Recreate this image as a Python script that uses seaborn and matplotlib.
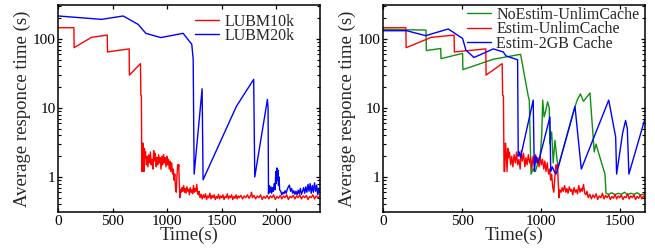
import numpy as np
import pandas as pd
import matplotlib
matplotlib.use("Agg")
import matplotlib.pyplot as plt
import seaborn as sns
from matplotlib.ticker import FixedLocator, LogLocator, FuncFormatter, NullFormatter

# ---------------- data ----------------
lubm10k_t = [0, 143, 145, 305, 449, 451, 650, 652, 754, 757, 762, 766,
             770, 775, 780, 785, 790, 795, 800, 808, 815, 822, 830, 838, 845, 852,
             860, 868, 875, 882, 890, 898, 905, 912, 920, 928, 935, 942, 950, 958,
             965, 972, 980, 988, 995, 1002, 1010, 1018, 1025, 1032, 1040, 1048,
             1055, 1062, 1068, 1075, 1082, 1088, 1095, 1100, 1105, 1110, 1115,
             1120, 1128, 1135, 1142, 1150, 1158, 1165, 1172, 1180, 1188, 1195,
             1202, 1210, 1218, 1225, 1232, 1240, 1248, 1255, 1262, 1270, 1278,
             1285, 1292, 1300, 1310, 1320, 1330, 1340, 1350, 1360, 1370, 1380,
             1390, 1400, 1410, 1420, 1430, 1440, 1450, 1460, 1470, 1480, 1490,
             1500, 1510, 1520, 1530, 1540, 1550, 1560, 1570, 1580, 1590, 1600,
             1610, 1620, 1630, 1640, 1650, 1660, 1675, 1690, 1705, 1720, 1735,
             1750, 1765, 1772, 1780, 1795, 1810, 1825, 1840, 1855, 1870, 1885,
             1900, 1915, 1930, 1945, 1960, 1975, 1990, 2005, 2020, 2035, 2050,
             2065, 2080, 2095, 2110, 2125, 2140, 2155, 2170, 2185, 2200, 2215,
             2230, 2245, 2260, 2275, 2290, 2305, 2320, 2335, 2350, 2365, 2380,
             2395]
lubm10k_v = [146, 146, 75, 106, 114, 65, 72, 30, 44, 15.4, 15, 1.2,
             1.2, 3.1, 2.2, 1.2, 2.6, 1.9, 2.3, 1.5, 2.0, 1.4, 2.1, 1.6, 2.3, 1.5,
             1.8, 1.3, 2.4, 1.7, 2.2, 1.4, 1.9, 1.5, 2.1, 1.6, 1.9, 1.3, 2.0, 1.5,
             2.1, 1.6, 1.9, 1.4, 2.0, 1.5, 1.8, 1.3, 1.7, 1.2, 1.6, 1.1,
             1.3, 0.9, 1.1, 0.7, 0.6, 1.0, 1.5, 1.3, 1.5, 0.8, 0.5,
             0.65, 0.6, 0.7, 0.62, 0.75, 0.6, 0.68, 0.58, 0.72, 0.62, 0.66,
             0.55, 0.7, 0.6, 0.65, 0.57, 0.75, 0.6, 0.68, 0.62, 0.78, 0.58,
             0.55, 0.62, 0.5, 0.56, 0.48, 0.55, 0.5, 0.57, 0.47, 0.53, 0.5,
             0.58, 0.48, 0.54, 0.5, 0.55, 0.47, 0.52, 0.49, 0.56, 0.48, 0.53,
             0.5, 0.55, 0.47, 0.52, 0.5, 0.57, 0.48, 0.53, 0.5, 0.55, 0.47,
             0.52, 0.49, 0.55, 0.48, 0.53, 0.5, 0.54, 0.48, 0.53, 0.5, 0.55,
             0.49, 0.54, 0.6, 0.5, 0.54, 0.48, 0.53, 0.5, 0.55, 0.47, 0.52,
             0.49, 0.54, 0.48, 0.53, 0.5, 0.55, 0.47, 0.52, 0.49, 0.54, 0.48,
             0.53, 0.5, 0.55, 0.47, 0.52, 0.5, 0.54, 0.48, 0.53, 0.5, 0.55,
             0.48, 0.53, 0.5, 0.54, 0.47, 0.52, 0.5, 0.55, 0.48, 0.53, 0.5,
             0.52]

lubm20k_t = [0, 397, 595, 733, 803, 940, 1145, 1224, 1237, 1246, 1319, 1328,
             1634, 1792, 1802, 1918, 1924, 1928,
             1935, 1942, 1950, 1957, 1965, 1972, 1980, 1988, 1995, 2000, 2005,
             2010, 2015, 2020, 2025, 2030, 2040, 2050, 2060, 2070, 2080, 2090,
             2100, 2110, 2120, 2130, 2140, 2150, 2160, 2170, 2180, 2190, 2200,
             2210, 2220, 2230, 2240, 2250, 2260, 2270, 2280, 2290, 2300, 2310,
             2320, 2330, 2340, 2350, 2360, 2370, 2380, 2390, 2400]
lubm20k_v = [216, 193, 216, 163, 121, 105, 121, 84, 52, 1.1, 19, 0.91,
             10.6, 26, 1.0, 13.3, 10, 0.57,
             0.75, 0.6, 0.72, 0.58, 0.7, 0.62, 0.8, 0.65, 1.2, 0.8, 1.35,
             0.9, 1.25, 0.75, 1.0, 0.65, 0.62, 0.55, 0.6, 0.57, 0.63, 0.58,
             0.66, 0.72, 0.76, 0.62, 0.68, 0.58, 0.63, 0.56, 0.62, 0.55, 0.64,
             0.57, 0.68, 0.56, 0.62, 0.7, 0.58, 0.72, 0.6, 0.78, 0.62, 0.8,
             0.58, 0.75, 0.6, 0.82, 0.62, 0.76, 0.55, 0.68, 0.6]

# right panel
estim_unlim_t = lubm10k_t
estim_unlim_v = lubm10k_v

noestim_t = [0, 271, 273, 364, 366, 503, 505, 698, 871, 919, 926, 937,
             950, 965, 980, 995, 1005, 1011, 1020, 1030, 1042, 1053, 1056,
             1068, 1078, 1089, 1103, 1110, 1216, 1230, 1250, 1270, 1311,
             1338, 1349, 1406, 1413, 1430, 1450, 1470, 1490, 1510, 1530,
             1550, 1570, 1590, 1610, 1630, 1660]
noestim_v = [138, 135, 68, 73, 52, 62, 36, 51, 60, 15, 13, 1.1,
             1.3, 1.2, 1.6, 2.0, 4.0, 13, 7.4, 9.0, 12.3, 10, 3.0,
             4.5, 1.6, 3.4, 1.7, 1.4, 10.5, 13, 16, 12.5, 16.5,
             2.3, 3.0, 1.1, 0.58, 0.56, 0.59, 0.55, 0.58, 0.56, 0.6,
             0.55, 0.58, 0.56, 0.59, 0.55, 0.57]

estim2gb_t = [0, 148, 269, 412, 503, 524, 575, 698, 761, 778, 852, 856,
              862, 870, 951, 958, 968, 980, 994, 1057, 1062, 1072, 1085,
              1095, 1108, 1216, 1256, 1430, 1474, 1480, 1518, 1537, 1548,
              1558, 1660]
estim2gb_v = [132, 132, 112, 140, 102, 69, 54, 72, 65, 57, 50, 2.0,
              2.3, 1.9, 13, 1.2, 2.0, 1.6, 2.0, 7.4, 1.2, 1.4, 1.2,
              1.1, 1.35, 10.5, 1.3, 13, 3.8, 1.1, 4.3, 6.6, 5.0,
              1.1, 7.0]

left_labels = ["LUBM10k", "LUBM20k"]
right_labels = ["NoEstim-UnlimCache", "Estim-UnlimCache", "Estim-2GB Cache"]
x_label = "Time(s)"
y_label = "Average responce time (s)"

# ---------------- style ----------------
sns.set_style("ticks")
plt.rcParams["font.family"] = ["Liberation Serif", "DejaVu Serif"]
plt.rcParams["mathtext.fontset"] = "custom"

fig = plt.figure(figsize=(6.55, 2.49), dpi=100)
axL = fig.add_axes([0.089, 0.1486, 0.3995, 0.8314])
axR = fig.add_axes([0.5852, 0.1486, 0.3995, 0.8314])

lw = 1.0
sns.lineplot(x=lubm10k_t, y=lubm10k_v, ax=axL, color="#ff0000", lw=lw,
             label=left_labels[0], estimator=None, sort=False)
sns.lineplot(x=lubm20k_t, y=lubm20k_v, ax=axL, color="#0000ff", lw=lw,
             label=left_labels[1], estimator=None, sort=False)

sns.lineplot(x=noestim_t, y=noestim_v, ax=axR, color="#109010", lw=lw,
             label=right_labels[0], estimator=None, sort=False)
sns.lineplot(x=estim_unlim_t, y=estim_unlim_v, ax=axR, color="#ff0000", lw=lw,
             label=right_labels[1], estimator=None, sort=False)
sns.lineplot(x=estim2gb_t, y=estim2gb_v, ax=axR, color="#0000ff", lw=lw,
             label=right_labels[2], estimator=None, sort=False)

def fmt(v, pos):
    return "%g" % v

for ax, xmax, xt, legx, legy in [(axL, 2400, [0, 500, 1000, 1500, 2000], 0.522, 0.958),
                                 (axR, 1660, [0, 500, 1000, 1500], 0.319, 0.99)]:
    ax.set_yscale("log")
    ax.set_ylim(0.31, 312)
    ax.set_xlim(0, xmax)
    ax.xaxis.set_major_locator(FixedLocator(xt))
    ax.yaxis.set_major_locator(FixedLocator([1, 10, 100]))
    ax.yaxis.set_minor_locator(LogLocator(base=10, subs=np.arange(2, 10), numticks=20))
    ax.yaxis.set_major_formatter(FuncFormatter(fmt))
    ax.yaxis.set_minor_formatter(NullFormatter())
    ax.tick_params(axis="both", which="both", direction="in", top=True, right=True,
                   labelsize=11, pad=2, colors="black")
    ax.tick_params(which="major", length=3, width=0.9)
    ax.tick_params(which="minor", length=1.9, width=0.8)
    for s in ax.spines.values():
        s.set_linewidth(1.1)
        s.set_color("black")
    ax.set_xlabel(x_label, fontsize=13.5, labelpad=-1)
    ax.set_ylabel(y_label, fontsize=13.5, labelpad=1)
    leg = ax.legend(loc="upper left", bbox_to_anchor=(legx, legy), frameon=False,
                    fontsize=11.5, handlelength=1.5, handletextpad=0.35,
                    labelspacing=-0.1, borderpad=0, borderaxespad=0)

fig.savefig("out.png", dpi=100)
